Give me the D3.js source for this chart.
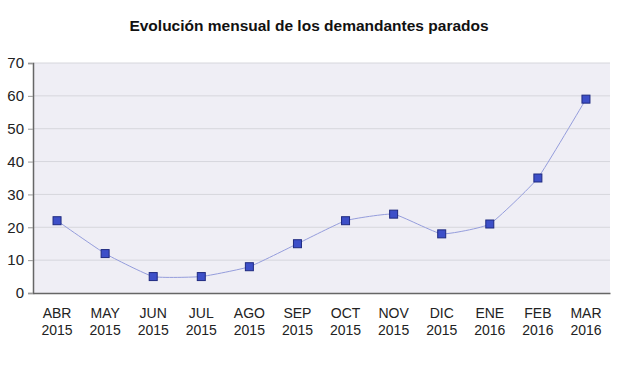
<!DOCTYPE html>
<html>
<head>
<meta charset="utf-8">
<script src="https://cdn.jsdelivr.net/npm/d3@7"></script>
<style>
  body { margin: 0; background: #fff; }
  text { font-family: "Liberation Sans", Arial, sans-serif; }
</style>
</head>
<body>
<svg id="chart" width="620" height="368"></svg>
<script>
// Chart data
const months = ['ABR', 'MAY', 'JUN', 'JUL', 'AGO', 'SEP', 'OCT', 'NOV', 'DIC', 'ENE', 'FEB', 'MAR'];
const years = ['2015', '2015', '2015', '2015', '2015', '2015', '2015', '2015', '2015', '2016', '2016', '2016'];
const values = [22, 12, 5, 5, 8, 15, 22, 24, 18, 21, 35, 59];
const yTicks = [0, 10, 20, 30, 40, 50, 60, 70];

const svg = d3.select('#chart');
const margin = { top: 63, right: 10, bottom: 75, left: 33 };
const width = 620 - margin.left - margin.right;
const height = 368 - margin.top - margin.bottom;

// Title
svg.append('text')
  .attr('x', 309)
  .attr('y', 31)
  .attr('text-anchor', 'middle')
  .style('font-size', '15.5px')
  .style('font-weight', 'bold')
  .style('fill', '#111')
  .text('Evolución mensual de los demandantes parados');

const chart = svg.append('g')
  .attr('transform', `translate(${margin.left},${margin.top})`);

const xScale = d3.scalePoint()
  .domain(months)
  .range([0, width])
  .padding(0.5);

const yScale = d3.scaleLinear()
  .domain([0, 70])
  .range([height, 0]);

// Plot background
chart.append('rect')
  .attr('width', width)
  .attr('height', height)
  .attr('fill', '#efeef5');

// Gridlines
chart.selectAll('.grid')
  .data(yTicks.filter(d => d > 0))
  .enter().append('line')
  .attr('x1', 0)
  .attr('x2', width)
  .attr('y1', d => yScale(d))
  .attr('y2', d => yScale(d))
  .attr('stroke', '#d6d6dc')
  .attr('stroke-width', 1);

// Y axis
const yAxis = chart.append('g')
  .call(d3.axisLeft(yScale).tickValues(yTicks).tickSize(5).tickPadding(4));
yAxis.select('.domain').attr('stroke', '#666').attr('stroke-width', 1.5);
yAxis.selectAll('.tick line').attr('stroke', '#999');
yAxis.selectAll('.tick text')
  .style('font-size', '15px')
  .style('fill', '#222')
  .style('font-family', '"Liberation Sans", Arial, sans-serif');

// X axis
const xAxis = chart.append('g')
  .attr('transform', `translate(0,${height})`)
  .call(d3.axisBottom(xScale).tickSize(0).tickFormat(''));
xAxis.select('.domain').attr('stroke', '#666').attr('stroke-width', 1.5);

// Two-line x labels
const labels = chart.selectAll('.xlabel')
  .data(months)
  .enter().append('text')
  .attr('x', d => xScale(d))
  .attr('y', height + 25)
  .attr('text-anchor', 'middle')
  .style('font-size', '14px')
  .style('fill', '#222');
labels.append('tspan')
  .attr('x', d => xScale(d))
  .text(d => d);
labels.append('tspan')
  .attr('x', d => xScale(d))
  .attr('dy', 17)
  .text((d, i) => years[i]);

// Line (slightly smoothed)
const line = d3.line()
  .x((d, i) => xScale(months[i]))
  .y(d => yScale(d))
  .curve(d3.curveCardinal.tension(0.6));

chart.append('path')
  .datum(values)
  .attr('d', line)
  .attr('fill', 'none')
  .attr('stroke', '#959ddc')
  .attr('stroke-width', 1);

// Square markers
const size = 8;
chart.selectAll('.marker')
  .data(values)
  .enter().append('rect')
  .attr('x', (d, i) => xScale(months[i]) - size / 2)
  .attr('y', d => yScale(d) - size / 2)
  .attr('width', size)
  .attr('height', size)
  .attr('fill', '#3d4fc8')
  .attr('stroke', '#1f2a80')
  .attr('stroke-width', 1);
</script>
</body>
</html>
